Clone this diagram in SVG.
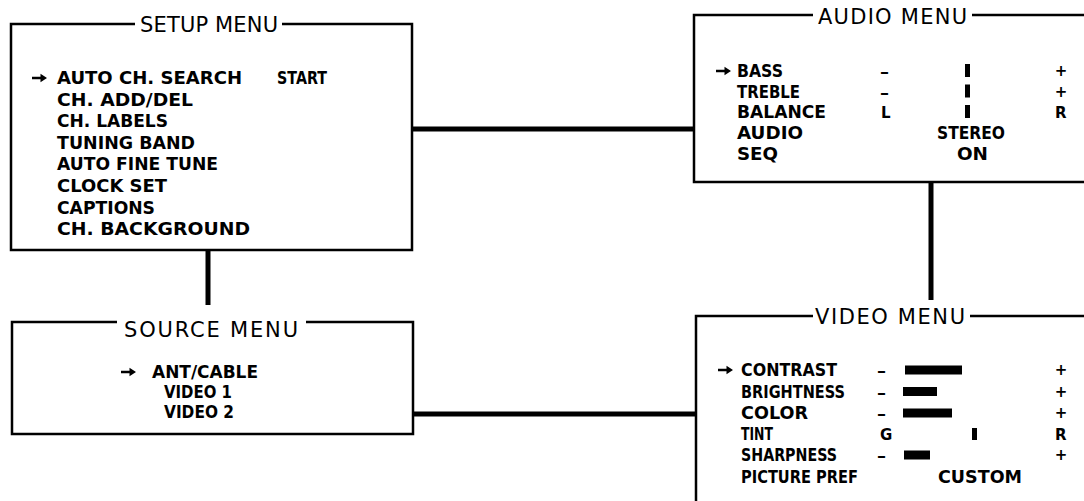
<svg xmlns="http://www.w3.org/2000/svg" width="1084" height="501" viewBox="0 0 1084 501">
<style>
.box{fill:none;stroke:#000;stroke-width:2.5}
.conn{fill:none;stroke:#000;stroke-width:5}
.title{font-family:"DejaVu Sans",sans-serif;font-size:21px;fill:#000}
.it{font-family:"DejaVu Sans",sans-serif;font-weight:bold;font-size:18px;fill:#000}
.sm{font-size:17.5px}
.ds{font-family:"DejaVu Sans",sans-serif;font-weight:bold;font-size:16px}
.pl{font-family:"DejaVu Sans",sans-serif;font-weight:bold;font-size:15px;text-anchor:middle}
.lt{font-family:"DejaVu Sans",sans-serif;font-weight:bold;font-size:15px}
.bar{fill:#000}
</style>
<defs>
<path id="ptr" d="M0,-1.3 H8.5 V-4.3 L15,0 L8.5,4.3 V1.3 H0 Z" fill="#000"/>
</defs>
<rect width="1084" height="501" fill="#fff"/>
<g id="connectors">
<path class="conn" d="M208,250 V305"/>
<path class="conn" d="M412,129 H694"/>
<path class="conn" d="M931,182 V300"/>
<path class="conn" d="M413,414 H696"/>
</g>
<g id="setup-menu">
<path class="box" d="M135,24 H11 V250 H412 V24 H282"/>
<text class="title" x="140" y="32" textLength="138" lengthAdjust="spacing">SETUP MENU</text>
<use href="#ptr" x="32" y="78"/>
<g class="it">
<text x="57" y="84" textLength="185" lengthAdjust="spacingAndGlyphs">AUTO CH. SEARCH</text>
<text x="277" y="84" textLength="50" lengthAdjust="spacingAndGlyphs">START</text>
<text x="57" y="105.6" textLength="136" lengthAdjust="spacingAndGlyphs">CH. ADD/DEL</text>
<text x="57" y="127.2" textLength="111" lengthAdjust="spacingAndGlyphs">CH. LABELS</text>
<text x="57" y="148.8" textLength="138" lengthAdjust="spacingAndGlyphs">TUNING BAND</text>
<text x="57" y="170.4" textLength="161" lengthAdjust="spacingAndGlyphs">AUTO FINE TUNE</text>
<text x="57" y="192" textLength="110" lengthAdjust="spacingAndGlyphs">CLOCK SET</text>
<text x="57" y="213.6" textLength="98" lengthAdjust="spacingAndGlyphs">CAPTIONS</text>
<text x="57" y="235.2" textLength="193" lengthAdjust="spacingAndGlyphs">CH. BACKGROUND</text>
</g>
</g>
<g id="source-menu">
<path class="box" d="M117,322 H12 V434 H413 V322 H306"/>
<text class="title" x="124" y="337" textLength="174" lengthAdjust="spacing">SOURCE MENU</text>
<use href="#ptr" x="121" y="372"/>
<g class="it">
<text x="152" y="378" textLength="106" lengthAdjust="spacingAndGlyphs">ANT/CABLE</text>
<text x="164" y="398" textLength="68" lengthAdjust="spacingAndGlyphs">VIDEO 1</text>
<text x="164" y="418" textLength="70" lengthAdjust="spacingAndGlyphs">VIDEO 2</text>
</g>
</g>
<g id="audio-menu">
<path class="box" d="M813,15 H694 V182 H1095 M972,15 H1095"/>
<text class="title" x="818" y="24" textLength="149" lengthAdjust="spacing">AUDIO MENU</text>
<use href="#ptr" x="716" y="71"/>
<g class="it sm">
<text x="737" y="77" textLength="46" lengthAdjust="spacingAndGlyphs">BASS</text>
<text x="737" y="97.5" textLength="63" lengthAdjust="spacingAndGlyphs">TREBLE</text>
<text x="737" y="118" textLength="89" lengthAdjust="spacingAndGlyphs">BALANCE</text>
<text x="737" y="139" textLength="66" lengthAdjust="spacingAndGlyphs">AUDIO</text>
<text x="737" y="159.5" textLength="41" lengthAdjust="spacingAndGlyphs">SEQ</text>
<text x="937" y="139" textLength="68" lengthAdjust="spacingAndGlyphs">STEREO</text>
<text x="957" y="159.5" textLength="31" lengthAdjust="spacingAndGlyphs">ON</text>
</g>
<text class="ds" x="880" y="77" textLength="9" lengthAdjust="spacingAndGlyphs">–</text>
<text class="ds" x="880" y="97.5" textLength="9" lengthAdjust="spacingAndGlyphs">–</text>
<text class="lt" x="881" y="118">L</text>
<text class="lt" x="1055" y="118">R</text>
<text class="pl" x="1061" y="76">+</text>
<text class="pl" x="1061" y="96.5">+</text>
<rect class="bar" x="965" y="64" width="5" height="13"/>
<rect class="bar" x="965" y="84.5" width="5" height="13"/>
<rect class="bar" x="965" y="105" width="5" height="13"/>
</g>
<g id="video-menu">
<path class="box" d="M813,316 H696 V510 M970,316 H1095"/>
<text class="title" x="815" y="324" textLength="150" lengthAdjust="spacing">VIDEO MENU</text>
<use href="#ptr" x="718" y="370"/>
<g class="it sm">
<text x="741" y="376" textLength="96" lengthAdjust="spacingAndGlyphs">CONTRAST</text>
<text x="741" y="397.5" textLength="104" lengthAdjust="spacingAndGlyphs">BRIGHTNESS</text>
<text x="741" y="419" textLength="67" lengthAdjust="spacingAndGlyphs">COLOR</text>
<text x="741" y="440" textLength="32" lengthAdjust="spacingAndGlyphs">TINT</text>
<text x="741" y="461" textLength="96" lengthAdjust="spacingAndGlyphs">SHARPNESS</text>
<text x="741" y="482.5" textLength="117" lengthAdjust="spacingAndGlyphs">PICTURE PREF</text>
<text x="938" y="482.5" textLength="84" lengthAdjust="spacingAndGlyphs">CUSTOM</text>
</g>
<text class="ds" x="877" y="376" textLength="9" lengthAdjust="spacingAndGlyphs">–</text>
<text class="ds" x="877" y="397.5" textLength="9" lengthAdjust="spacingAndGlyphs">–</text>
<text class="ds" x="877" y="419" textLength="9" lengthAdjust="spacingAndGlyphs">–</text>
<text class="ds" x="877" y="461" textLength="9" lengthAdjust="spacingAndGlyphs">–</text>
<text class="lt" x="880" y="440" font-weight="normal">G</text>
<text class="lt" x="1055" y="440">R</text>
<text class="pl" x="1061" y="375">+</text>
<text class="pl" x="1061" y="396.5">+</text>
<text class="pl" x="1061" y="418">+</text>
<text class="pl" x="1061" y="460">+</text>
<rect class="bar" x="905" y="365.5" width="57" height="9"/>
<rect class="bar" x="903" y="387" width="34" height="9"/>
<rect class="bar" x="903" y="408.5" width="49" height="9"/>
<rect class="bar" x="972" y="428" width="5" height="12"/>
<rect class="bar" x="904" y="450.5" width="26" height="9"/>
</g>
</svg>
